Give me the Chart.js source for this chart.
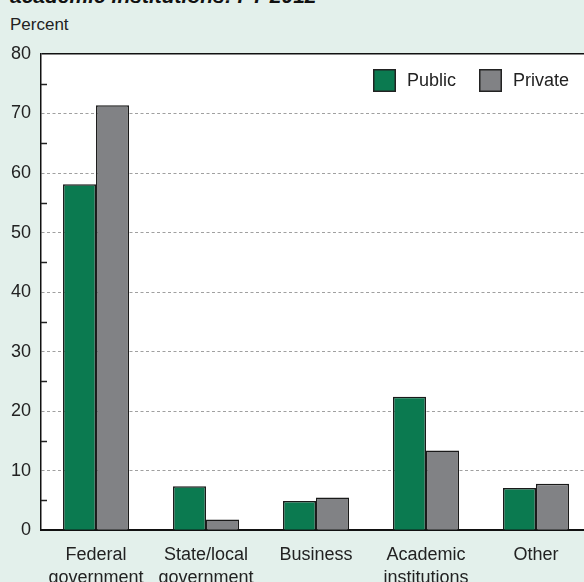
<!DOCTYPE html>
<html>
<head>
<meta charset="utf-8">
<script src="https://cdn.jsdelivr.net/npm/chart.js@4.4.1/dist/chart.umd.min.js"></script>
<style>
  html, body { margin: 0; padding: 0; background: #e3f0eb; }
  #wrap { position: relative; width: 584px; height: 582px; overflow: hidden; background: #e3f0eb; }
  #cv { position: absolute; left: 0; top: 0; }
  .title { position: absolute; left: 10px; top: -16px; font: italic bold 21px "Liberation Sans", Arial, sans-serif; color: #111; white-space: nowrap; }
  .unit { position: absolute; left: 10px; top: 15px; font: 17px "Liberation Sans", Arial, sans-serif; color: #222; }
</style>
</head>
<body>
<div id="wrap">
  <div class="title">academic institutions: FY 2012</div>
  <div class="unit">Percent</div>
  <canvas id="cv" width="600" height="605"></canvas>
</div>
<script>
// funding sources, share of R&D expenditures (percent)
const categories = [
  ["Federal", "government"],
  ["State/local", "government"],
  ["Business"],
  ["Academic", "institutions"],
  ["Other"]
];
const publicValues = [58.1, 7.4, 4.9, 22.4, 7.1];
const privateValues = [71.4, 1.8, 5.5, 13.4, 7.8];
const yTicks = [0, 10, 20, 30, 40, 50, 60, 70, 80];

const GREEN = "#0b7a50";
const GRAY = "#818285";
const FONT = "'Liberation Sans', Arial, sans-serif";

// white plot background
const plotBackground = {
  id: "plotBackground",
  beforeDraw(chart) {
    const a = chart.chartArea;
    const c = chart.ctx;
    c.save();
    c.fillStyle = "#ffffff";
    c.fillRect(a.left, a.top, a.right - a.left, a.bottom - a.top);
    c.restore();
  }
};

// short tick marks inside the plot at the odd fives
const minorTicks = {
  id: "minorTicks",
  afterDatasetsDraw(chart) {
    const y = chart.scales.y;
    const left = chart.chartArea.left;
    const c = chart.ctx;
    c.save();
    c.strokeStyle = "#222";
    c.lineWidth = 1.5;
    for (let v = 5; v < 80; v += 10) {
      const py = Math.round(y.getPixelForValue(v)) + 0.5;
      c.beginPath();
      c.moveTo(left, py);
      c.lineTo(left + 6, py);
      c.stroke();
    }
    c.restore();
  }
};

// legend boxes drawn in the top right of the plot
const insideLegend = {
  id: "insideLegend",
  afterDraw(chart) {
    const c = chart.ctx;
    const area = chart.chartArea;
    const xs = [area.right - 218, area.right - 112];
    c.save();
    c.font = "18px " + FONT;
    c.textBaseline = "middle";
    chart.data.datasets.forEach((ds, i) => {
      const bx = xs[i], by = area.top + 15;
      c.fillStyle = ds.backgroundColor;
      c.fillRect(bx, by, 23, 23);
      c.strokeStyle = "#222";
      c.lineWidth = 1.5;
      c.strokeRect(bx + 0.75, by + 0.75, 21.5, 21.5);
      c.fillStyle = "#222";
      c.fillText(ds.label, bx + 34, by + 12);
    });
    c.restore();
  }
};

new Chart(document.getElementById("cv"), {
  type: "bar",
  data: {
    labels: categories,
    datasets: [
      { label: "Public", data: publicValues, backgroundColor: GREEN, borderColor: "#1a1a1a", borderWidth: 1.5 },
      { label: "Private", data: privateValues, backgroundColor: GRAY, borderColor: "#1a1a1a", borderWidth: 1.5 }
    ]
  },
  options: {
    responsive: false,
    devicePixelRatio: 1,
    animation: false,
    layout: { padding: { left: 1, right: 9, top: 54, bottom: 2 } },
    datasets: { bar: { categoryPercentage: 0.6, barPercentage: 1.0 } },
    plugins: { legend: { display: false }, tooltip: { enabled: false } },
    scales: {
      x: {
        grid: { display: false, drawTicks: false },
        border: { display: true, color: "#111", width: 2 },
        ticks: { color: "#222", font: { family: FONT, size: 18, lineHeight: 1.3 }, padding: 13, maxRotation: 0, autoSkip: false }
      },
      y: {
        min: 0,
        max: 80,
        afterBuildTicks(scale) { scale.ticks = yTicks.map(v => ({ value: v })); },
        ticks: { color: "#222", font: { family: FONT, size: 18 }, padding: 10 },
        grid: {
          drawTicks: false,
          color: ctx => ctx.tick.value === 80 ? "#111" : (ctx.tick.value === 0 ? "rgba(0,0,0,0)" : "#a0a0a0"),
          lineWidth: ctx => ctx.tick.value === 80 ? 1.5 : 1
        },
        border: {
          display: true,
          color: "#111",
          width: 1.5,
          dash: ctx => (ctx.tick && ctx.tick.value === 80) ? [] : [3, 2.5]
        }
      }
    }
  },
  plugins: [plotBackground, minorTicks, insideLegend]
});
</script>
</body>
</html>
